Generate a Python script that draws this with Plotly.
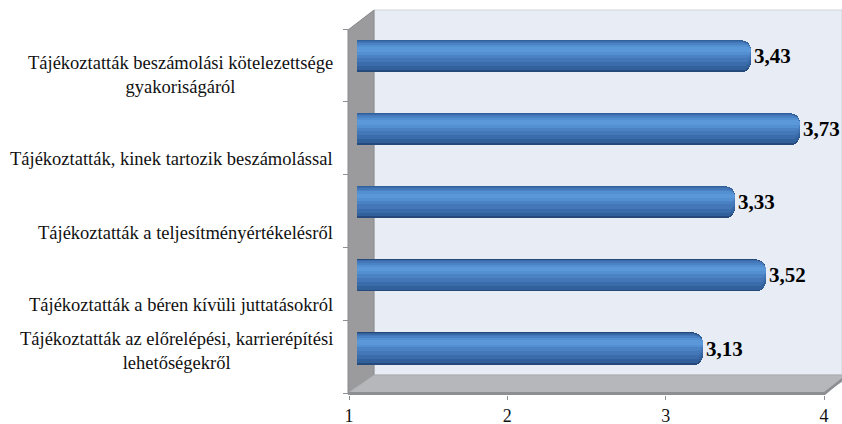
import plotly.graph_objects as go

# ---- data ----
categories = [
    "Tájékoztatták beszámolási kötelezettsége<br>gyakoriságáról",
    "Tájékoztatták, kinek tartozik beszámolással",
    "Tájékoztatták a teljesítményértékelésről",
    "Tájékoztatták a béren kívüli juttatásokról",
    "Tájékoztatták az előrelépési, karrierépítési<br>lehetőségekről",
]
values = [3.43, 3.73, 3.33, 3.52, 3.13]
x_ticks = [1, 2, 3, 4]

# ---- layout constants (pixels) ----
W, H = 842, 424
LABEL_Y_PX = [75, 159, 233, 305, 351]
FONT = "'Liberation Serif', 'Times New Roman', Times, serif"


def px(x):
    return x / W


def py(y):
    return 1 - y / H


def poly(points):
    d = "M " + " L ".join(f"{px(x)},{py(y)}" for x, y in points) + " Z"
    return d


fig = go.Figure()

# cylinder-like bars: layered bars with gradient
layers = [
    (0.44, -0.22, "#25497a", 10),
    (0.41, -0.215, "#31609a", 9),
    (0.35, -0.205, "#3a6cab", 9),
    (0.28, -0.19, "#4377b8", 8),
    (0.20, -0.17, "#4b82c4", 7),
    (0.13, -0.145, "#5390d2", 6),
    (0.06, -0.115, "#5b98da", 3),
]
for i, (w, off, col, cr) in enumerate(layers):
    fig.add_trace(go.Bar(
        x=values, y=categories, orientation="h",
        xaxis="x2", yaxis="y",
        width=w, offset=off,
        marker=dict(color=col, line=dict(width=0), cornerradius=cr),
        text=[f"{v:.2f}".replace(".", ",") for v in values] if i == 0 else None,
        textposition="outside" if i == 0 else "none",
        textfont=dict(family=FONT, size=21, color="#000000", weight="bold"),
        cliponaxis=False,
        constraintext="none",
        hoverinfo="skip",
        showlegend=False,
    ))

# invisible trace to hold front axis + left tick axis
fig.add_trace(go.Scatter(x=[1, 4], y=[0, 5], xaxis="x", yaxis="y3",
                         mode="markers", marker=dict(opacity=0),
                         hoverinfo="skip", showlegend=False))

shapes = [
    # back wall
    dict(type="path", path=poly([(374, 10), (842, 10), (842, 375), (374, 375)]),
         fillcolor="#e8ecf5", line=dict(color="#d0d4dc", width=1),
         xref="paper", yref="paper", layer="below"),
    # left wall
    dict(type="path", path=poly([(348, 30), (374, 10), (374, 375), (348, 393)]),
         fillcolor="#9b9b9d", line=dict(color="#8a8a8c", width=1),
         xref="paper", yref="paper", layer="below"),
    # floor
    dict(type="path", path=poly([(348, 393), (374, 375), (852, 375), (824, 393)]),
         fillcolor="#b5b7ba", line=dict(color="#a9abae", width=1),
         xref="paper", yref="paper", layer="below"),
    # floor front strip
    dict(type="path", path=poly([(348, 392), (824, 392), (842, 378), (842, 381), (825, 395), (348, 395)]),
         fillcolor="#8e8f92", line=dict(width=0),
         xref="paper", yref="paper", layer="below"),
]

annotations = []
for cat, ypx in zip(categories, LABEL_Y_PX):
    annotations.append(dict(
        text=cat, x=px(335), y=py(ypx), xref="paper", yref="paper",
        xanchor="right", yanchor="middle", align="center", showarrow=False,
        font=dict(family=FONT, size=18.5, color="#111111"),
    ))

fig.update_layout(
    width=W, height=H,
    margin=dict(l=0, r=0, t=0, b=0, autoexpand=False),
    paper_bgcolor="white",
    plot_bgcolor="rgba(0,0,0,0)",
    font=dict(family=FONT),
    bargap=0, barmode="overlay",
    shapes=shapes,
    annotations=annotations,
    xaxis=dict(domain=[px(349), px(824)], range=[1, 4], tickvals=x_ticks,
               ticks="outside", ticklen=4, tickcolor="#8e8f92", tickwidth=1,
               showgrid=False, zeroline=False, showline=False,
               anchor="free", position=py(395), automargin=False,
               ticklabelstandoff=0,
               tickfont=dict(family=FONT, size=18, color="#111111")),
    xaxis2=dict(domain=[px(357), 1], range=[1, 1 + (842 - 357) / 162.3],
                visible=False, anchor="y", automargin=False),
    yaxis=dict(domain=[py(385.6), py(19.4)], type="category",
               categoryorder="array", categoryarray=categories,
               autorange="reversed", visible=False, anchor="x2", automargin=False),
    yaxis3=dict(domain=[py(393), py(29)], range=[0, 5], tickvals=[0, 1, 2, 3, 4, 5],
                ticks="outside", ticklen=5, tickcolor="#8e8f92",
                showticklabels=False, showgrid=False, zeroline=False, showline=False,
                anchor="free", position=px(348), automargin=False),
)

fig.write_html("out.html")
